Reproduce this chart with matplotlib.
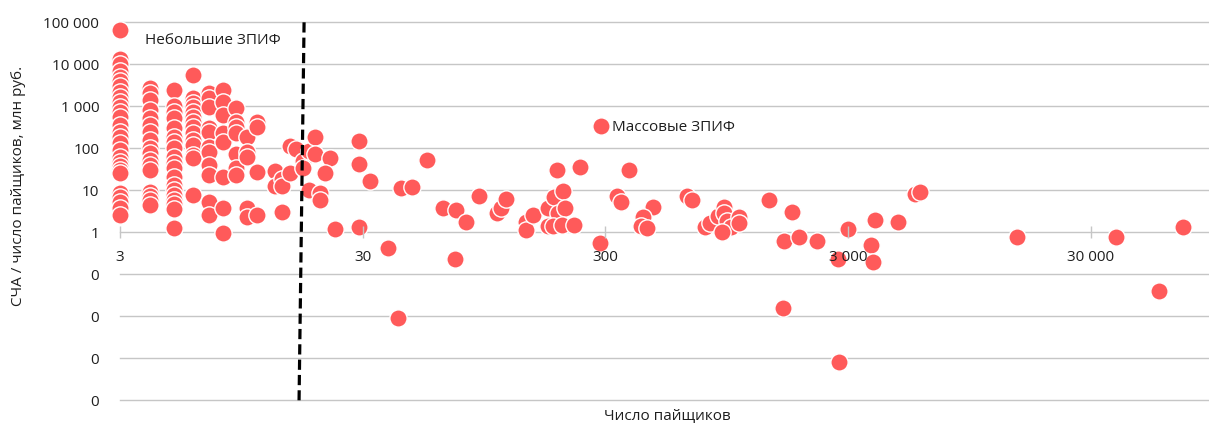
import numpy as np
import matplotlib
matplotlib.use("Agg")
import matplotlib.pyplot as plt

plt.rcParams['font.family'] = ['Open Sans', 'DejaVu Sans']

# ---- data: NAV per holder (mln RUB) for funds with a given number of holders ----
y_at_3 = [65600, 13400, 10200, 6930, 4990, 4000, 3040, 2190, 1660, 1270, 962, 732, 556,
          359, 244, 186, 134, 91, 62, 47, 38, 30, 26, 8.6, 6.9, 5.3, 3.8, 2.6]
y_at_4 = [2730, 2070, 1410, 816, 527, 359, 244, 158, 102, 77, 53, 40, 30, 9.1, 7.3, 5.9, 4.5]
y_at_5 = [2440, 1016, 732, 527, 304, 186, 141, 102, 62, 45, 34, 20.7, 13.4, 10.2, 7.7,
          5.9, 4.7, 3.6, 1.27]
y_at_6 = [5560, 1577, 1199, 962, 732, 556, 423, 321, 231, 158, 120, 69, 59, 7.7]
y_at_7 = [2070, 1577, 962, 304, 244, 107, 82, 40, 23, 5.3, 2.6]
y_at_8 = [2440, 1270, 621, 231, 141, 20.7, 3.8, 0.96]
y_at_9 = [911, 423, 321, 231, 73, 34, 23]
y_at_10 = [186, 82, 62, 3.8, 2.3]
y_at_11 = [423, 321, 27, 2.6]

other_x = [13, 13, 14, 14, 15, 14, 15, 16, 17, 17, 18, 19, 19, 18, 20, 20, 22, 21, 23,
           29, 29, 32, 29, 38, 42, 43, 48, 55, 64, 73, 80, 72, 90, 107, 111, 117, 141, 141,
           151, 174, 189, 184, 191, 200, 204, 174, 182, 199, 223, 236, 285, 335, 347, 375,
           471, 428, 420, 445, 650, 681, 771, 809, 872, 923, 920, 950, 986, 906, 1064, 1064,
           1415, 1760, 1631, 1880, 2230, 2722, 2993, 3723, 3795, 3868, 4810, 5652, 5926,
           1616, 2748, 14866, 38000, 71800, 57200]
other_y = [28.8, 12.7, 18.6, 12.7, 25.8, 3.0, 113, 96, 50, 34, 86, 186, 73, 10.2, 8.6, 5.9,
           59, 26, 1.2, 149, 42, 16.7, 1.34, 0.42, 0.0091, 11.3, 12, 53, 3.8, 3.4, 1.76, 0.23,
           7.3, 2.88, 3.8, 6.2, 1.76, 1.13, 2.58, 3.8, 30.4, 6.9, 2.88, 9.6, 3.8, 1.41, 1.41,
           1.49, 1.49, 35.9, 0.556, 7.3, 5.3, 30.4, 4.0, 2.31, 1.41, 1.27, 7.3, 5.9, 1.34,
           1.66, 2.44, 4.0, 2.88, 1.86, 1.34, 1.0, 2.31, 1.66, 5.9, 3.04, 0.62, 0.77, 0.62,
           0.23, 1.2, 0.50, 0.196, 1.96, 1.76, 8.2, 9.1, 0.0158, 0.000816, 0.77, 0.77, 1.34,
           0.040]

# dashed boundary between small and mass funds
cutoff_x = [17.2, 16.4]
cutoff_y = [100000, 0.0001]

x_ticks = [3, 30, 300, 3000, 30000]
x_labels = ['3', '30', '300', '3 000', '30 000']
y_ticks = [100000, 10000, 1000, 100, 10, 1, 0.1, 0.01, 0.001, 0.0001]
y_labels = ['100 000', '10 000', '1 000', '100', '10', '1', '0', '0', '0', '0']

small_label = 'Небольшие ЗПИФ'
series_label = 'Массовые ЗПИФ'
x_title = 'Число пайщиков'
y_title = 'СЧА / число пайщиков, млн руб.'

# ---- build arrays ----
cols = [(3, y_at_3), (4, y_at_4), (5, y_at_5), (6, y_at_6), (7, y_at_7), (8, y_at_8),
        (9, y_at_9), (10, y_at_10), (11, y_at_11)]
xs, ys = [], []
for xv, yl in cols:
    xs += [xv] * len(yl)
    ys += yl
xs += other_x
ys += other_y
xs = np.array(xs, dtype=float)
ys = np.array(ys, dtype=float)

W, H = 1209, 424
fig = plt.figure(figsize=(W / 100, H / 100), dpi=100)
ax = fig.add_axes([120 / W, 1 - 400.3 / H, 1089 / W, 378 / H])

ax.set_xscale('log')
ax.set_yscale('log')
ax.set_xlim(3, 92000)
ax.set_ylim(0.0001, 100000)

# horizontal gridlines drawn below the markers
for yt in y_ticks:
    ax.axhline(yt, color='#c6c6c6', lw=1.0, zorder=0.5, clip_on=False)
ax.grid(False)
ax.set_axisbelow(False)   # tick labels above the markers

text_col = '#1e1e1e'
red = '#FF5A5A'
ax.scatter(xs, ys, s=155, color=red, edgecolor='white', linewidth=1.0,
           zorder=2, clip_on=False, label=series_label)

ax.plot(cutoff_x, cutoff_y, color='black', lw=2.3, ls=(0, (3.2, 1.6)), zorder=4,
        clip_on=False)

ax.text(3.8, 35900, small_label, fontsize=11, ha='left', va='center', color=text_col)

leg = ax.legend(loc='center left', bbox_to_anchor=(0.4347, 0.723), frameon=False,
                borderpad=0, borderaxespad=0, handlelength=1.0, handletextpad=0.25,
                fontsize=11, scatterpoints=1)
for t in leg.get_texts():
    t.set_color(text_col)

for s in ax.spines.values():
    s.set_visible(False)
ax.spines['bottom'].set_position(('data', 1))

ax.set_xticks(x_ticks)
ax.set_xticklabels(x_labels)
ax.xaxis.set_minor_locator(matplotlib.ticker.NullLocator())
ax.set_yticks(y_ticks)
ax.set_yticklabels(y_labels)
ax.yaxis.set_minor_locator(matplotlib.ticker.NullLocator())

ax.tick_params(axis='x', direction='inout', length=8, width=1, color='#c6c6c6',
               pad=9, labelsize=11, labelcolor=text_col)
ax.tick_params(axis='y', length=0, pad=15, labelsize=11, labelcolor=text_col)

ax.set_xlabel(x_title, fontsize=11, color=text_col)
ax.xaxis.set_label_coords(0.503, -0.022)
ax.set_ylabel(y_title, fontsize=11, color=text_col)
ax.yaxis.set_label_coords(-0.086, 0.567)

fig.savefig('out.png', dpi=100)
